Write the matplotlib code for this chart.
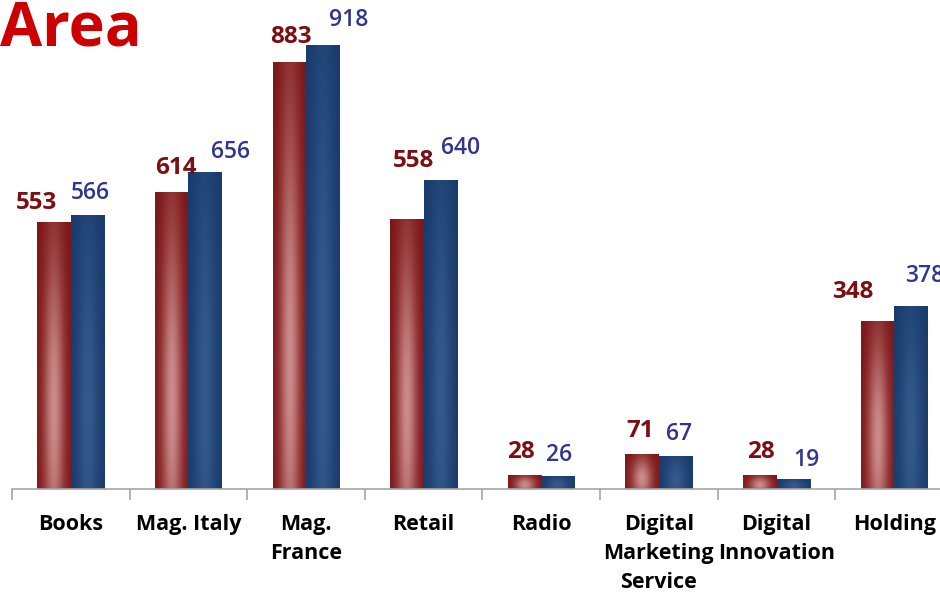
import numpy as np
import matplotlib.pyplot as plt
from matplotlib.colors import to_rgb

plt.rcParams['font.family'] = ['Open Sans', 'DejaVu Sans']

categories = ["Books", "Mag. Italy", "Mag.\nFrance", "Retail", "Radio",
              "Digital\nMarketing\nService", "Digital\nInnovation", "Holding"]
red_values = [553, 614, 883, 558, 28, 71, 28, 348]
blue_values = [566, 656, 918, 640, 26, 67, 19, 378]

# label nudges in pixels (x, and height of label centre above bar top)
red_dx = [-18, 4, 2, 7, -4, -2, 1, -25]
red_dy = [19, 25, 26, 59, 23, 24, 23, 29]
blue_dx = [3, 25, 26, 20, 1, 3, 13, 14]
blue_dy = [23, 20, 26, 32, 21, 23, 20, 31]


def bar_gradient(dark, light, vc=0.3, vw=0.6, hw=0.6):
    # lighter glow in the middle, darker at the edges
    u = np.linspace(-1, 1, 40)
    v = np.linspace(1, 0, 200)
    U, V = np.meshgrid(u, v)
    inten = np.exp(-(U / hw) ** 2) * np.exp(-((V - vc) / vw) ** 2)
    d = np.array(to_rgb(dark))
    l = np.array(to_rgb(light))
    return d + (l - d) * inten[..., None]


fig = plt.figure(figsize=(9.4, 5.92), dpi=100)
ax = fig.add_axes([12 / 940, 103 / 592, 941 / 940, 489 / 592])

x = np.arange(len(categories))
w = 0.285
red_bars = ax.bar(x - w / 2, red_values, w, color='none')
blue_bars = ax.bar(x + w / 2, blue_values, w, color='none')

red_img = bar_gradient('#7c1517', '#cc8b8b')
blue_img = bar_gradient('#183a6d', '#35598b', vw=0.7, hw=0.65)
for bars, img in [(red_bars, red_img), (blue_bars, blue_img)]:
    for b in bars:
        x0, h = b.get_x(), b.get_height()
        ax.imshow(img, extent=[x0, x0 + b.get_width(), 0, h],
                  aspect='auto', interpolation='bicubic', zorder=2)

for b, v, dx, dy in zip(red_bars, red_values, red_dx, red_dy):
    ax.annotate(str(v), (b.get_x() + b.get_width() / 2, v),
                xytext=(dx, dy), textcoords='offset pixels',
                ha='center', va='center', fontsize=17.5,
                fontweight='bold', color='#7b0f12')
for b, v, dx, dy in zip(blue_bars, blue_values, blue_dx, blue_dy):
    ax.annotate(str(v), (b.get_x() + b.get_width() / 2, v),
                xytext=(dx, dy), textcoords='offset pixels',
                ha='center', va='center', fontsize=16.5,
                fontweight='semibold', color='#2f3590')

ax.set_xlim(-0.5, len(categories) - 0.5)
ax.set_ylim(0, 1013)
ax.set_yticks([])
for s in ['top', 'right', 'left']:
    ax.spines[s].set_visible(False)
ax.spines['bottom'].set_color('#a6a6a6')
ax.spines['bottom'].set_linewidth(1.2)

ax.set_xticks(x)
ax.set_xticklabels(categories, fontsize=15.5, fontweight='bold',
                   linespacing=1.5)
ax.tick_params(axis='x', which='major', length=0, pad=18)
ax.set_xticks(np.arange(len(categories) + 1) - 0.5, minor=True)
ax.tick_params(axis='x', which='minor', length=8, width=1.2,
               color='#a6a6a6')

fig.text(0.0, 1.0, "Area", ha='left', va='top', fontsize=44,
         fontweight='bold', color='#cc0000')

fig.savefig('out.png', dpi=100)
